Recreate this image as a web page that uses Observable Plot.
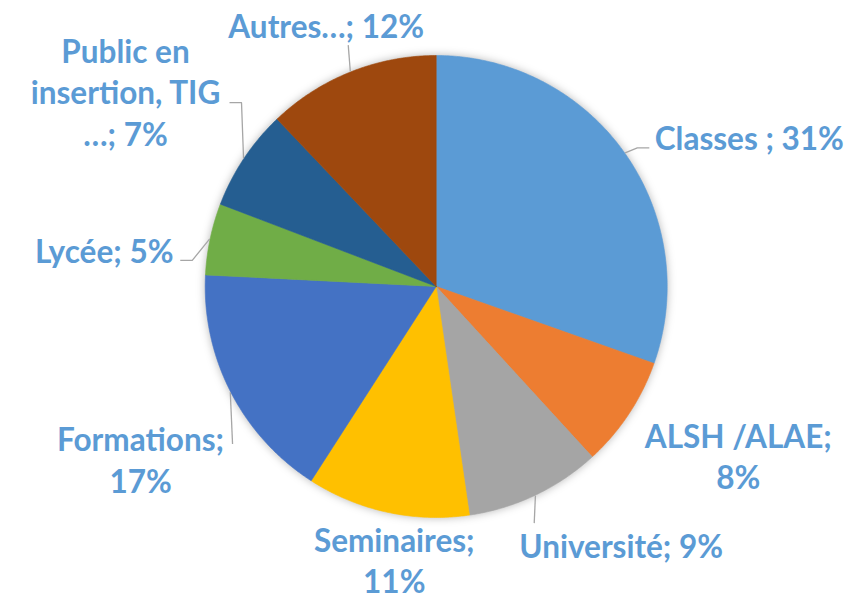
<!DOCTYPE html>
<html>
<head>
<meta charset="utf-8">
<script src="https://cdn.jsdelivr.net/npm/d3@7"></script>
<script src="https://cdn.jsdelivr.net/npm/@observablehq/plot@0.6"></script>
<style>
  html, body { margin: 0; padding: 0; background: #ffffff; }
  #chart { width: 864px; height: 602px; }
</style>
</head>
<body>
<div id="chart"></div>
<script>
// ---- data ----
const categories = ["Classes", "ALSH /ALAE", "Université", "Seminaires", "Formations", "Lycée", "Public en insertion, TIG …", "Autres…"];
const shares = [30.4, 7.8, 9.5, 11.4, 16.7, 5.0, 7.1, 12.1];
const labelTexts = ["Classes ; 31%", "ALSH /ALAE;\n8%", "Université; 9%", "Seminaires;\n11%", "Formations;\n17%", "Lycée; 5%", "Public en\ninsertion, TIG\n…; 7%", "Autres…; 12%"];
const sliceColors = ["#5B9BD5", "#ED7D31", "#A5A5A5", "#FFC000", "#4472C4", "#70AD47", "#255E91", "#9E480E"];

// ---- layout (not data) ----
const W = 864, H = 602;
const CX = 435.7, CY = 286, R = 231;
// label placement: angle offset from slice mid-angle (deg) and distance from centre (px)
const labelAngleOffset = [9.75, -4.3, -10.2, -3.5, -3, -5.5, -1.5, -1];
const labelDistance = [347, 346, 318, 276, 342, 334, 367, 284];
// leader-line bends, relative to label centre (px); null = no leader
const leaderBends = [
  [[-112, 11], [-100, 11]],
  null,
  [[-87, -22]],
  null,
  [[92, -14.5]],
  [[88, 11], [76, 11]],
  [[116, 11.5], [104, 11.5]],
  [[22, 20.5]]
];

const total = d3.sum(shares);
const toUx = px => (px - CX) / R;
const toUy = py => (CY - py) / R;

// slice polygons in unit-radius coordinates
const slicePts = [];
const labelRows = [];
const leaderPts = [];
let acc = 0;
shares.forEach((v, i) => {
  const a0 = acc / total * 2 * Math.PI;
  const a1 = (acc + v) / total * 2 * Math.PI;
  acc += v;
  slicePts.push({k: i, x: 0, y: 0, c: sliceColors[i]});
  const n = Math.max(2, Math.ceil((a1 - a0) / (Math.PI / 360)));
  for (let j = 0; j <= n; j++) {
    const a = a0 + (a1 - a0) * j / n;
    slicePts.push({k: i, x: Math.sin(a), y: Math.cos(a), c: sliceColors[i]});
  }
  slicePts.push({k: i, x: 0, y: 0, c: sliceColors[i]});

  const mid = (a0 + a1) / 2;
  const la = mid + labelAngleOffset[i] * Math.PI / 180;
  const lx = CX + labelDistance[i] * Math.sin(la);
  const ly = CY - labelDistance[i] * Math.cos(la);
  labelRows.push({x: toUx(lx), y: toUy(ly), text: labelTexts[i], cat: categories[i]});

  if (leaderBends[i]) {
    leaderPts.push({k: i, x: Math.sin(mid) * 1.002, y: Math.cos(mid) * 1.002});
    leaderBends[i].forEach(([dx, dy]) => leaderPts.push({k: i, x: toUx(lx + dx), y: toUy(ly + dy)}));
  }
});

const chart = Plot.plot({
  width: W,
  height: H,
  margin: 0,
  x: {domain: [toUx(0), toUx(W)], range: [0, W], axis: null},
  y: {domain: [toUy(H), toUy(0)], range: [H, 0], axis: null},
  color: {type: "identity"},
  style: {background: "#ffffff", overflow: "visible"},
  marks: [
    Plot.line(slicePts, {x: "x", y: "y", z: "k", fill: "c", stroke: "c", strokeWidth: 0.6, curve: "linear"}),
    Plot.line(leaderPts, {x: "x", y: "y", z: "k", stroke: "#A6A6A6", strokeWidth: 1.3, curve: "linear", strokeLinecap: "butt"}),
    Plot.text(labelRows, {
      x: "x", y: "y", text: "text",
      fill: "#5B9BD5",
      fontFamily: "Lato",
      fontWeight: "bold",
      fontSize: 31.5,
      lineHeight: 1.32,
      textAnchor: "middle",
      lineAnchor: "middle"
    })
  ]
});

const pieGroup = chart.querySelector('g[aria-label="line"]');
if (pieGroup) pieGroup.style.filter = "drop-shadow(0px 0px 4px rgba(0,0,0,0.28))";

document.getElementById("chart").appendChild(chart);
</script>
</body>
</html>
